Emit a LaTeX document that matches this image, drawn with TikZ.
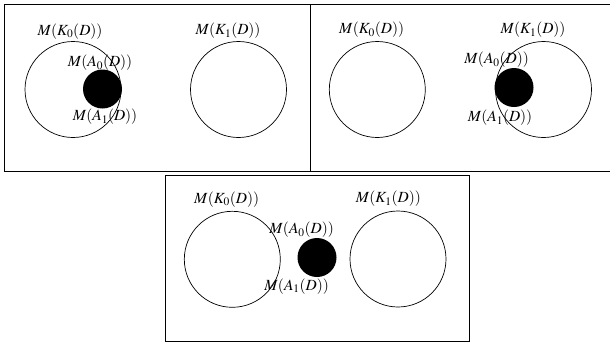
\documentclass[tikz,border=0pt]{standalone}
\usepackage{mathptmx}
\begin{document}
\begin{tikzpicture}[x=1pt,y=-1pt,
  frame/.style={draw,line width=0.9pt},
  bigset/.style={circle,draw,line width=0.7pt,minimum size=96pt,inner sep=0pt},
  blackset/.style={circle,fill=black,minimum size=39pt,inner sep=0pt},
  lab/.style={inner sep=0pt,font=\fontsize{15.5}{18}\selectfont}]
\useasboundingbox (0,0) rectangle (610,346);
% frames
\draw[frame] (4.5,4.5) rectangle (310,171);
\draw[frame] (310,4.5) -- (612,4.5) (310,4.5) -- (310,171) -- (612,171);
\draw[frame] (165,175) rectangle (469,341);
% panel 1
\node[bigset] (k0a) at (73,89.5) {};
\node[blackset] (aa) at (102.5,89) {};
\node[bigset] (k1a) at (238.5,89.5) {};
\node[lab] (lk0a) at (70,31.5) {$M(K_0(D))$};
\node[lab] (lk1a) at (228,31) {$M(K_1(D))$};
\node[lab] (la0a) at (100,63) {$M(A_0(D))$};
\node[lab] (la1a) at (105,117) {$M(A_1(D))$};
% panel 2
\node[bigset] (k0b) at (377.3,89.5) {};
\node[bigset] (k1b) at (543.5,89.5) {};
\node[blackset] (ab) at (514,87.5) {};
\node[lab] (lk0b) at (371.7,30) {$M(K_0(D))$};
\node[lab] (lk1b) at (533,30) {$M(K_1(D))$};
\node[lab] (la0b) at (496.7,60) {$M(A_0(D))$};
\node[lab] (la1b) at (500,118) {$M(A_1(D))$};
% panel 3
\node[bigset] (k0c) at (232.3,259.3) {};
\node[blackset] (ac) at (317,257.5) {};
\node[bigset] (k1c) at (398,259) {};
\node[lab] (lk0c) at (226.7,199.3) {$M(K_0(D))$};
\node[lab] (lk1c) at (388.3,199) {$M(K_1(D))$};
\node[lab] (la0c) at (301.7,230) {$M(A_0(D))$};
\node[lab] (la1c) at (296.7,286.7) {$M(A_1(D))$};
\end{tikzpicture}
\end{document}
